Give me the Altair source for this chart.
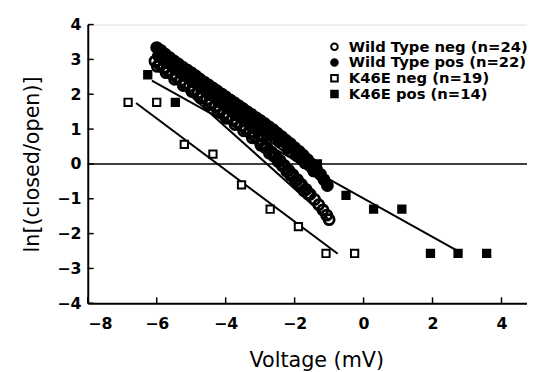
import altair as alt
import pandas as pd

# ---------------- data ----------------
series_names = ["Wild Type neg (n=24)", "Wild Type pos (n=22)",
                "K46E neg (n=19)", "K46E pos (n=14)"]

# Wild Type pos (filled circles, upper band)
wt_pos_v = [-6.0, -5.88, -5.75, -5.62, -5.5, -5.37, -5.25, -5.12, -5.0, -4.87,
            -4.75, -4.62, -4.5, -4.37, -4.25, -4.12, -4.0, -3.87, -3.75, -3.62,
            -3.5, -3.37, -3.25, -3.12, -3.0, -2.87, -2.75, -2.62, -2.5, -2.37,
            -2.25, -2.12, -2.0, -1.87, -1.75, -1.62, -1.5, -1.37, -1.25, -1.15,
            -1.05,
            -5.95, -5.7, -5.45, -5.2, -4.95, -4.7, -4.45, -4.2, -3.95, -3.7,
            -3.45, -3.2, -2.95, -2.7, -2.45, -2.2, -1.95, -1.7, -1.45]
wt_pos_y = [3.34, 3.26, 3.15, 3.05, 2.96, 2.87, 2.78, 2.7, 2.62, 2.53,
            2.44, 2.35, 2.27, 2.18, 2.1, 2.01, 1.93, 1.84, 1.76, 1.67,
            1.59, 1.5, 1.42, 1.33, 1.25, 1.16, 1.07, 0.98, 0.88, 0.78,
            0.68, 0.58, 0.47, 0.36, 0.25, 0.12, -0.01, -0.15, -0.3, -0.45,
            -0.62,
            3.1, 2.92, 2.72, 2.55, 2.37, 2.2, 2.03, 1.86, 1.7, 1.52,
            1.35, 1.17, 1.0, 0.83, 0.65, 0.45, 0.25, 0.03, -0.2]

# Wild Type neg (open circles, lower band)
wt_neg_v = [-6.05, -5.92, -5.8, -5.67, -5.55, -5.42, -5.3, -5.17, -5.05, -4.92,
            -4.8, -4.67, -4.55, -4.42, -4.3, -4.17, -4.05, -3.92, -3.8, -3.67,
            -3.55, -3.42, -3.3, -3.17, -3.05, -2.92, -2.8, -2.67, -2.55, -2.42,
            -2.3, -2.17, -2.05, -1.92, -1.8, -1.67, -1.55, -1.42, -1.3, -1.18,
            -1.07, -1.0,
            -5.98, -5.73, -5.48, -5.23, -4.98, -4.73, -4.48, -4.23, -3.98, -3.73,
            -3.48, -3.23, -2.98, -2.73, -2.48, -2.23, -1.98, -1.73,
            -2.86, -2.61, -2.36, -2.11, -1.86, -1.61]
wt_neg_y = [2.95, 2.86, 2.76, 2.67, 2.58, 2.49, 2.4, 2.31, 2.23, 2.13,
            2.04, 1.94, 1.85, 1.75, 1.66, 1.56, 1.46, 1.37, 1.28, 1.19,
            1.1, 1.0, 0.9, 0.8, 0.7, 0.58, 0.47, 0.34, 0.22, 0.09,
            -0.04, -0.18, -0.31, -0.45, -0.59, -0.73, -0.87, -1.02, -1.17, -1.32,
            -1.47, -1.6,
            2.8, 2.62, 2.43, 2.25, 2.08, 1.89, 1.7, 1.51, 1.31, 1.13,
            0.95, 0.75, 0.54, 0.31, 0.07, -0.21, -0.49, -0.77,
            0.47, 0.23, -0.05, -0.33, -0.6, -0.86]

# K46E neg (open squares)
k46e_neg_v = [-6.83, -6.0, -5.2, -4.37, -3.54, -2.71, -1.89, -1.09, -0.26]
k46e_neg_y = [1.77, 1.77, 0.56, 0.28, -0.6, -1.3, -1.8, -2.57, -2.57]

# K46E pos (filled squares)
k46e_pos_v = [-6.26, -5.46, -1.34, -0.51, 0.29, 1.11, 1.94, 2.74, 3.57]
k46e_pos_y = [2.56, 1.77, 0.0, -0.9, -1.3, -1.3, -2.57, -2.57, -2.57]

# fitted lines (end points)
fit_ids = ["WT pos", "WT neg", "K46E neg", "K46E pos"]
fit_v0 = [-6.05, -6.1, -6.6, -6.14]
fit_y0 = [3.3, 2.92, 1.75, 2.39]
fit_v1 = [-1.05, -1.0, -0.75, 2.74]
fit_y1 = [-0.65, -1.6, -2.58, -2.5]

x_ticks = [-8, -6, -4, -2, 0, 2, 4]
y_ticks = [-4, -3, -2, -1, 0, 1, 2, 3, 4]

# ---------------- tables ----------------
wt = pd.DataFrame({
    "v": wt_neg_v + wt_pos_v,
    "y": wt_neg_y + wt_pos_y,
    "series": [series_names[0]] * len(wt_neg_v) + [series_names[1]] * len(wt_pos_v),
})
k46 = pd.DataFrame({
    "v": k46e_neg_v + k46e_pos_v,
    "y": k46e_neg_y + k46e_pos_y,
    "series": [series_names[2]] * len(k46e_neg_v) + [series_names[3]] * len(k46e_pos_v),
})
fits = pd.DataFrame({
    "v": fit_v0 + fit_v1,
    "y": fit_y0 + fit_y1,
    "fit": fit_ids + fit_ids,
})

W, H = 446, 283
FONT = "DejaVu Sans"

xscale = alt.Scale(domain=[-8, 4.74], nice=False, zero=False)
yscale = alt.Scale(domain=[-4, 4], nice=False, zero=False)

xaxis = alt.Axis(values=x_ticks, ticks=False, grid=False, domainColor="black",
                 domainWidth=2, labelFont=FONT, labelFontWeight="bold",
                 labelFontSize=16, labelColor="black", labelPadding=13,
                 title="Voltage (mV)", titleFont=FONT, titleFontSize=21,
                 titleFontWeight="normal", titleColor="black", titlePadding=18,
                 titleX=232)
yaxis = alt.Axis(values=y_ticks, ticks=False, grid=False, domainColor="black",
                 domainWidth=2, labelFont=FONT, labelFontWeight="bold",
                 labelFontSize=16, labelColor="black", labelPadding=7,
                 title="ln[(closed/open)]", titleFont=FONT, titleFontSize=21,
                 titleFontWeight="normal", titleColor="black", titlePadding=14)

X = alt.X("v:Q", scale=xscale, axis=xaxis)
Y = alt.Y("y:Q", scale=yscale, axis=yaxis)

shape_scale = alt.Scale(domain=series_names, range=["circle", "circle", "square", "square"])
fill_scale = alt.Scale(domain=series_names, range=["transparent", "black", "white", "black"])
stroke_scale = alt.Scale(domain=series_names, range=["black", "black", "black", "black"])
legend = alt.Legend(title=None, orient="none", legendX=243, legendY=15,
                    labelFont=FONT, labelFontWeight="bold", labelFontSize=15,
                    labelColor="black", symbolSize=45, symbolStrokeWidth=2,
                    labelOffset=7, rowPadding=0, padding=0, labelLimit=0)

def enc(ch):
    return ch.encode(
        x=X, y=Y,
        shape=alt.Shape("series:N", scale=shape_scale, legend=legend),
        fill=alt.Fill("series:N", scale=fill_scale, legend=legend),
        stroke=alt.Stroke("series:N", scale=stroke_scale, legend=legend),
    )

zero = alt.Chart(pd.DataFrame({"y": [0]})).mark_rule(
    stroke="black", strokeWidth=1.5).encode(
    y=alt.Y("y:Q", scale=yscale, axis=yaxis), x=alt.value(0), x2=alt.value(W))

lines = alt.Chart(fits).mark_line(stroke="black", strokeWidth=2).encode(
    x=X, y=Y, detail="fit:N")

wt_pts = enc(alt.Chart(wt).mark_point(size=105, strokeWidth=2.8, opacity=1))
k46_pts = enc(alt.Chart(k46).mark_point(size=55, strokeWidth=2, opacity=1))

yt = alt.Chart(pd.DataFrame({"y": y_ticks})).mark_rule(stroke="black", strokeWidth=1.5).encode(
    y=alt.Y("y:Q", scale=yscale, axis=yaxis), x=alt.value(0), x2=alt.value(6))
xt = alt.Chart(pd.DataFrame({"v": x_ticks})).mark_rule(stroke="black", strokeWidth=1.5).encode(
    x=alt.X("v:Q", scale=xscale, axis=xaxis), y=alt.value(H), y2=alt.value(H - 6))

chart = alt.layer(zero, wt_pts, lines, k46_pts, yt, xt).properties(
    width=W, height=H,
    autosize=alt.AutoSizeParams(type="none"),
    padding={"left": 81, "top": 14, "right": 0, "bottom": 70},
).configure_view(stroke=None).configure(font=FONT)

chart.save("out.html", embed_options={"renderer": "svg", "actions": False})
